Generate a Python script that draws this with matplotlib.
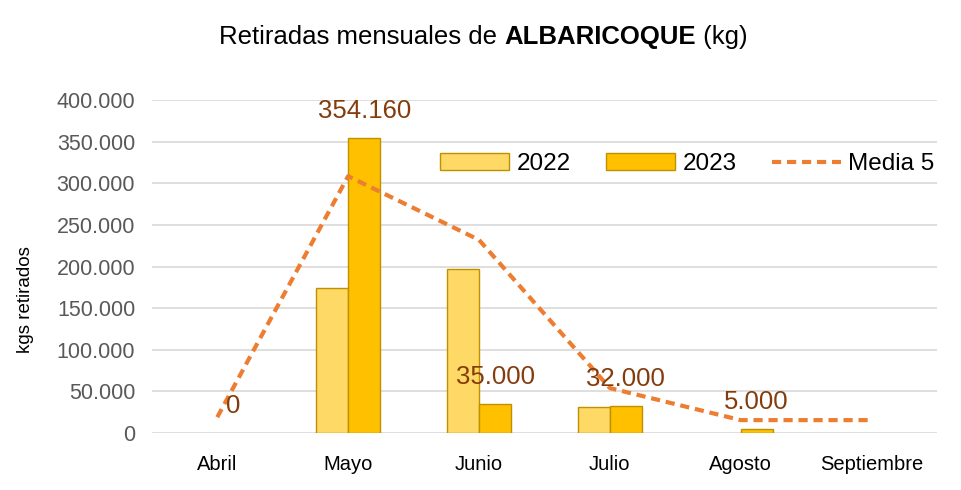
import matplotlib
matplotlib.use('Agg')
import matplotlib.pyplot as plt
import numpy as np
from matplotlib.patches import Patch
from matplotlib.ticker import FuncFormatter

# Monthly apricot withdrawals (kg)
meses = ['Abril', 'Mayo', 'Junio', 'Julio', 'Agosto', 'Septiembre']
kg_2022 = [0, 174000, 197000, 31000, 0, 0]
kg_2023 = [0, 354160, 35000, 32000, 5000, 0]
media_5 = [19000, 308500, 232000, 54000, 15500, 15500]
etiquetas_2023 = [0, 354160, 35000, 32000, 5000]

plt.rcParams['font.family'] = ['Liberation Sans', 'DejaVu Sans']


def miles(v):
    return f'{int(v):,}'.replace(',', '.')


fig = plt.figure(figsize=(9.61, 4.90), dpi=100)
ax = fig.add_axes([0.158, 0.1163, 0.817, 0.6796])

x = np.arange(len(meses))
w = 0.245
edge = '#BF9000'
c22, c23 = '#FFD966', '#FFC000'
ax.bar(x - w / 2, kg_2022, w, color=c22, linewidth=1, zorder=3,
       edgecolor=[edge if v else 'none' for v in kg_2022])
ax.bar(x + w / 2, kg_2023, w, color=c23, linewidth=1, zorder=3,
       edgecolor=[edge if v else 'none' for v in kg_2023])
linea, = ax.plot(x, media_5, color='#ED7D31', linestyle=(0, (2.2, 1.4)), linewidth=3,
                 label='Media 5', zorder=4)

# value labels over the 2023 bars
for i, v in enumerate(etiquetas_2023):
    ax.annotate(miles(v), (x[i] + w / 2, v), xytext=(0, 11), textcoords='offset points',
                ha='center', va='bottom', fontsize=18.5, color='#843C0C', zorder=5)

ax.set_xlim(-0.5, len(meses) - 0.5)
ax.set_ylim(0, 400000)
ax.set_yticks(np.arange(0, 400001, 50000))
ax.yaxis.set_major_formatter(FuncFormatter(lambda v, p: miles(v)))
ax.set_xticks(x)
ax.set_xticklabels(meses, fontsize=14.5)
ax.tick_params(axis='y', labelsize=15.5, labelcolor='#595959', length=0, pad=12)
ax.tick_params(axis='x', length=0, pad=16)
ax.grid(axis='y', color='#D9D9D9', linewidth=1.2, zorder=0)
for s in ax.spines.values():
    s.set_visible(False)
ax.set_ylabel('kgs retirados', fontsize=13.5)
ax.yaxis.set_label_coords(-0.15, 0.40)

# title with the product name in bold
partes = [('Retiradas mensuales de ', 'normal'), ('ALBARICOQUE', 'bold'), (' (kg)', 'normal')]
fig.canvas.draw()
r = fig.canvas.get_renderer()
textos = []
for s, peso in partes:
    textos.append(fig.text(0, 0.924, s, ha='left', va='center', fontsize=18.5, fontweight=peso))
anchos = [t.get_window_extent(r).width / fig.bbox.width for t in textos]
pos = 0.503 - sum(anchos) / 2
for t, a in zip(textos, anchos):
    t.set_x(pos)
    pos += a

handles = [Patch(facecolor=c22, edgecolor=edge, linewidth=1, label='2022'),
           Patch(facecolor=c23, edgecolor=edge, linewidth=1, label='2023'),
           linea]
ax.legend(handles=handles, loc='center left', bbox_to_anchor=(0.339, 0.808), ncol=3,
          frameon=False, fontsize=17.5, handlelength=2.85, handleheight=0.65,
          columnspacing=1.45, handletextpad=0.3)

fig.savefig('out.png', dpi=100)
